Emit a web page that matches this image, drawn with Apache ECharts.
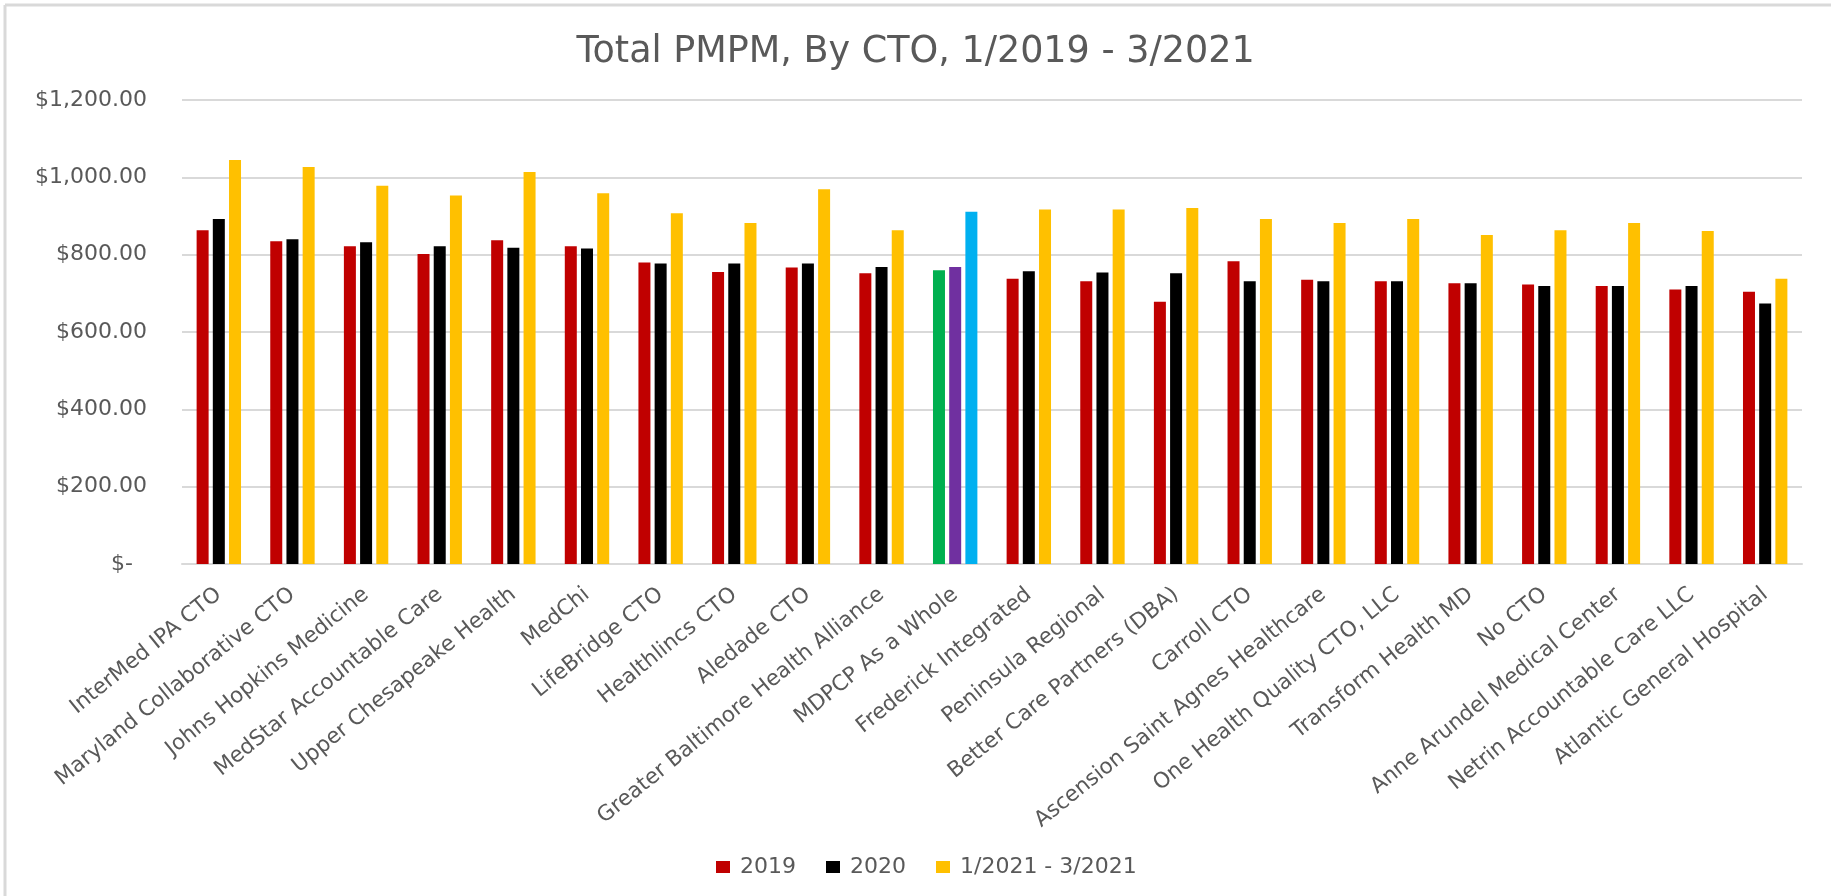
<!DOCTYPE html>
<html>
<head>
<meta charset="utf-8">
<title>Total PMPM, By CTO</title>
<script src="https://cdn.jsdelivr.net/npm/echarts@6/dist/echarts.min.js"></script>
<style>
    html, body { margin: 0; padding: 0; background: #fff; }
    #main { width: 1831px; height: 896px; }
</style>
</head>
<body>
<div id="main"></div>
<script>
// categories, in the order shown on the x axis
const ctoNames = [
    'InterMed IPA CTO', 'Maryland Collaborative CTO', 'Johns Hopkins Medicine',
    'MedStar Accountable Care', 'Upper Chesapeake Health', 'MedChi', 'LifeBridge CTO',
    'Healthlincs CTO', 'Aledade CTO', 'Greater Baltimore Health Alliance',
    'MDPCP As a Whole', 'Frederick Integrated', 'Peninsula Regional',
    'Better Care Partners (DBA)', 'Carroll CTO', 'Ascension Saint Agnes Healthcare',
    'One Health Quality CTO, LLC', 'Transform Health MD', 'No CTO',
    'Anne Arundel Medical Center', 'Netrin Accountable Care LLC', 'Atlantic General Hospital'
];

const seriesNames = ['2019', '2020', '1/2021 - 3/2021'];

// PMPM values
const pmpm2019 = [863, 835, 822, 802, 837, 822, 780, 755, 767, 752, 760, 738, 731, 678, 783, 735, 731, 726, 723, 719, 710, 704];
const pmpm2020 = [892, 840, 832, 822, 818, 816, 777, 777, 777, 768, 768, 757, 754, 752, 731, 731, 731, 726, 719, 719, 719, 674];
const pmpm2021 = [1045, 1027, 978, 953, 1014, 959, 907, 882, 969, 863, 911, 917, 917, 921, 892, 882, 892, 851, 863, 882, 861, 738];

const yTicks = [0, 200, 400, 600, 800, 1000, 1200];

const seriesColors = ['#C00000', '#000000', '#FFC000'];
// the "as a whole" group gets its own colours
const wholeColors = ['#00B050', '#7030A0', '#00B0F0'];
const wholeName = 'MDPCP As a Whole';

const labelFont = 'DejaVu Sans';
const textColor = '#595959';

function money(v) {
    if (v === 0) return '$-  ';
    let s = Math.round(v).toString().replace(/\B(?=(\d{3})+(?!\d))/g, ',');
    return '$' + s + '.00';
}

function buildData(values, idx) {
    return values.map(function (v, i) {
        if (ctoNames[i] === wholeName) {
            return {value: v, itemStyle: {color: wholeColors[idx]}};
        }
        return v;
    });
}

let option = {
    animation: false,
    backgroundColor: '#ffffff',
    textStyle: {fontFamily: labelFont},
    title: {
        text: 'Total PMPM, By CTO, 1/2019 - 3/2021',
        left: 'center',
        top: 29,
        textStyle: {
            fontFamily: labelFont,
            fontSize: 36.5,
            fontWeight: 'normal',
            color: textColor
        }
    },
    legend: {
        data: seriesNames,
        left: 711,
        top: 851,
        itemWidth: 14,
        itemHeight: 12,
        itemGap: 30,
        icon: 'rect',
        textStyle: {fontFamily: labelFont, fontSize: 22, color: textColor, padding: [0, 0, 0, 5]}
    },
    grid: {
        left: 182,
        right: 29,
        top: 100,
        bottom: 332,
        containLabel: false
    },
    xAxis: {
        type: 'category',
        data: ctoNames,
        axisLine: {lineStyle: {color: '#d9d9d9', width: 2}},
        axisTick: {show: false},
        axisLabel: {
            interval: 0,
            rotate: 39,
            margin: 28,
            fontFamily: labelFont,
            fontSize: 21.5,
            color: textColor
        }
    },
    yAxis: {
        type: 'value',
        min: yTicks[0],
        max: yTicks[yTicks.length - 1],
        interval: 200,
        axisLine: {show: false},
        axisTick: {show: false},
        splitLine: {lineStyle: {color: '#d9d9d9', width: 2}},
        axisLabel: {
            margin: 35,
            fontFamily: labelFont,
            fontSize: 22,
            color: textColor,
            formatter: money
        }
    },
    graphic: [
        {type: 'line', shape: {x1: 5, y1: 5, x2: 1831, y2: 5}, style: {stroke: '#d9d9d9', lineWidth: 3}},
        {type: 'line', shape: {x1: 5, y1: 5, x2: 5, y2: 896}, style: {stroke: '#d9d9d9', lineWidth: 3}}
    ],
    series: [pmpm2019, pmpm2020, pmpm2021].map(function (vals, idx) {
        return {
            name: seriesNames[idx],
            type: 'bar',
            barWidth: 12,
            barGap: '35%',
            itemStyle: {color: seriesColors[idx]},
            data: buildData(vals, idx)
        };
    })
};

let myChart = echarts.init(document.getElementById('main'));
myChart.setOption(option);
</script>
</body>
</html>
